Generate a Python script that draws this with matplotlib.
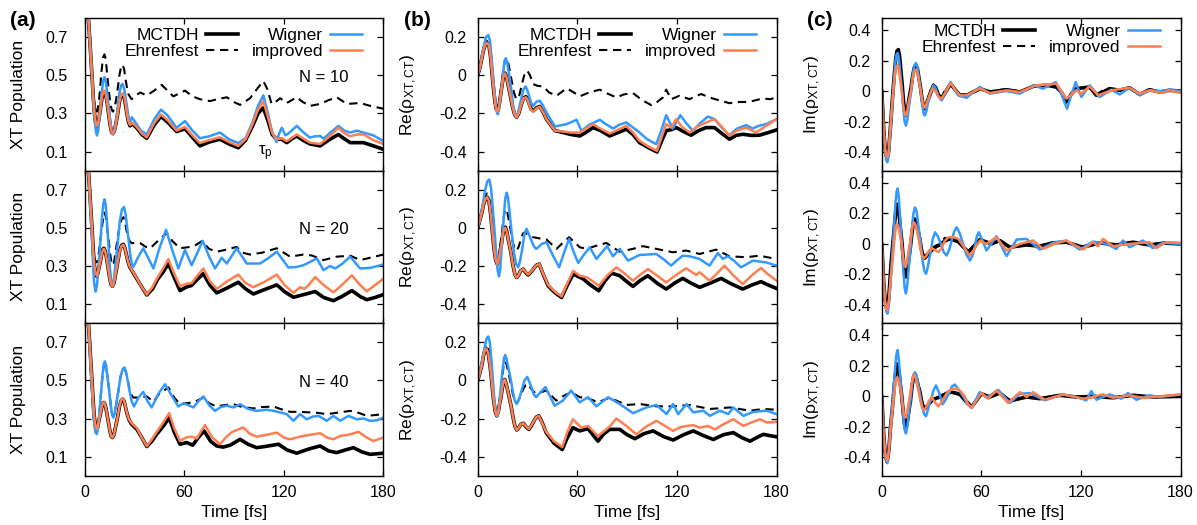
import matplotlib.pyplot as plt
import numpy as np

plt.rcParams['font.family'] = ['Liberation Sans', 'DejaVu Sans']
plt.rcParams['mathtext.fontset'] = 'custom'
plt.rcParams['mathtext.rm'] = 'Liberation Sans'
plt.rcParams['mathtext.it'] = 'Liberation Sans:italic'

# ---- data: (time [fs], value) ----
# column (a): XT population, rows N = 10, 20, 40
a10_mc = [(0,1.0),(1.5,0.9),(2.5,0.78),(3.5,0.64),(4.5,0.5),(5.3,0.38),(6,0.3),(6.7,0.25),(7.3,0.23),(8,0.24),(8.7,0.27),(9.5,0.32),(10.5,0.38),(11.2,0.408),(11.8,0.415),(12.5,0.405),(13.4,0.37),(14.5,0.3),(15.5,0.235),(16.3,0.203),(17.2,0.195),(18,0.21),(19,0.25),(20,0.3),(21,0.36),(22,0.392),(23,0.40),(23.9,0.385),(24.7,0.345),(25.5,0.3),(26.5,0.255),(27.4,0.235),(29,0.245),(31.4,0.225),(34.5,0.19),(37.5,0.17),(42,0.24),(46,0.285),(50,0.255),(55.5,0.205),(60.5,0.22),(65,0.175),(69.5,0.13),(75,0.15),(81.6,0.165),(87,0.14),(92.6,0.12),(97,0.16),(101,0.23),(104.5,0.3),(107.7,0.33),(110.5,0.26),(113,0.19),(115.7,0.165),(118.8,0.165),(121.8,0.147),(124.5,0.165),(127.8,0.182),(131.5,0.16),(135.8,0.14),(141.9,0.13),(147,0.16),(152.9,0.19),(156,0.17),(160,0.147),(168,0.147),(174,0.13),(180,0.112)]
a10_eh = [(0,1.0),(1.5,0.9),(2.5,0.78),(3.5,0.64),(4.5,0.5),(5.5,0.38),(6.5,0.32),(7.5,0.31),(8.5,0.35),(9.3,0.42),(10.2,0.52),(11.2,0.595),(12,0.61),(12.8,0.585),(13.6,0.51),(14.5,0.43),(15.5,0.355),(16.4,0.318),(17.2,0.31),(18.1,0.33),(19,0.37),(20,0.43),(21,0.5),(22.1,0.548),(23,0.555),(23.9,0.53),(24.7,0.48),(25.5,0.44),(26.5,0.4),(28.4,0.375),(31,0.395),(33.5,0.41),(37.5,0.395),(42,0.42),(46.5,0.45),(50,0.42),(53.5,0.39),(57,0.405),(60.5,0.42),(65,0.39),(69.5,0.375),(75.6,0.365),(80,0.375),(85.7,0.385),(90,0.36),(93.7,0.345),(99.7,0.38),(104,0.43),(107.7,0.47),(110,0.43),(112.7,0.35),(115,0.36),(117.8,0.38),(121.8,0.355),(127.8,0.385),(131.5,0.36),(135.8,0.34),(141.9,0.35),(147,0.37),(151.9,0.385),(158,0.35),(166,0.355),(172,0.34),(180,0.325)]
a10_wi = [(0,1.0),(1.5,0.9),(2.5,0.78),(3.5,0.64),(4.5,0.5),(5.4,0.35),(6.2,0.26),(6.9,0.205),(7.5,0.185),(8.2,0.21),(8.8,0.26),(9.5,0.32),(10.4,0.41),(11.3,0.475),(12,0.49),(12.7,0.475),(13.5,0.42),(14.5,0.34),(15.5,0.26),(16.4,0.205),(17.2,0.19),(18,0.205),(19,0.26),(20,0.33),(21,0.405),(22.1,0.448),(23,0.455),(23.9,0.43),(24.7,0.385),(25.5,0.34),(26.5,0.28),(27.4,0.25),(28.5,0.28),(30.5,0.255),(34,0.21),(37.5,0.19),(42,0.27),(46,0.32),(50,0.29),(55.5,0.225),(60.5,0.26),(65,0.21),(69.5,0.17),(75,0.18),(81.6,0.2),(87,0.165),(92.6,0.145),(97,0.17),(101,0.25),(104.5,0.34),(107.7,0.395),(110.5,0.3),(113,0.2),(115.7,0.15),(117,0.19),(118.8,0.225),(121,0.185),(123.5,0.2),(127.8,0.235),(132,0.2),(135.8,0.173),(138.5,0.18),(141.9,0.182),(144,0.168),(148,0.2),(152.9,0.235),(156.5,0.21),(160,0.2),(164,0.21),(168,0.2),(174,0.185),(180,0.155)]
a10_im = [(0,1.0),(1.5,0.9),(2.5,0.78),(3.5,0.64),(4.5,0.5),(5.3,0.38),(6,0.3),(6.7,0.255),(7.3,0.235),(8,0.245),(8.7,0.275),(9.5,0.32),(10.5,0.385),(11.2,0.412),(11.8,0.42),(12.5,0.41),(13.4,0.37),(14.5,0.3),(15.5,0.235),(16.3,0.203),(17.2,0.195),(18,0.21),(19,0.25),(20,0.3),(21,0.36),(22,0.395),(23,0.405),(23.9,0.39),(24.7,0.35),(25.5,0.3),(26.5,0.258),(27.4,0.24),(29,0.25),(31.4,0.23),(34.5,0.195),(37.5,0.175),(42,0.25),(46,0.295),(50,0.265),(55.5,0.21),(60.5,0.23),(65,0.185),(69.5,0.145),(75,0.16),(81.6,0.175),(87,0.15),(92.6,0.13),(97,0.165),(101,0.24),(104.5,0.32),(107.7,0.365),(110.5,0.28),(113,0.2),(115.7,0.165),(118.8,0.17),(121.8,0.155),(124.5,0.17),(127.8,0.19),(131.5,0.17),(135.8,0.147),(141.9,0.14),(147,0.175),(152.9,0.225),(156,0.2),(160,0.18),(164,0.19),(168,0.19),(174,0.16),(180,0.14)]

a20_mc = [(0,1.0),(1.5,0.9),(2.5,0.78),(3.5,0.64),(4.5,0.5),(5.3,0.38),(6,0.3),(6.7,0.26),(7.3,0.247),(8,0.26),(8.8,0.295),(9.5,0.32),(10.4,0.365),(11.1,0.388),(11.7,0.393),(12.4,0.38),(13.3,0.34),(14.2,0.29),(15.2,0.235),(16,0.203),(16.8,0.194),(17.7,0.21),(18.8,0.26),(20,0.32),(21.2,0.38),(22.3,0.408),(23.4,0.414),(24.3,0.395),(25.2,0.36),(26,0.33),(27.2,0.295),(28.4,0.278),(31.5,0.233),(34.5,0.19),(37.5,0.148),(41,0.18),(44,0.23),(47.5,0.27),(50.5,0.313),(54,0.24),(57.5,0.171),(61.5,0.19),(64.5,0.198),(68,0.23),(71.6,0.26),(75.5,0.2),(79.6,0.159),(86,0.185),(92.6,0.215),(97,0.18),(101.7,0.153),(108,0.175),(115.8,0.201),(120.5,0.165),(125.8,0.136),(132,0.15),(138.9,0.166),(144,0.135),(149.9,0.118),(155,0.14),(161,0.171),(166,0.14),(170,0.123),(175,0.135),(180,0.15)]
a20_eh = [(0,1.0),(1.5,0.9),(2.5,0.78),(3.5,0.62),(4.5,0.48),(5.5,0.37),(6.5,0.32),(7.5,0.32),(8.5,0.36),(9.5,0.43),(10.5,0.5),(11.3,0.56),(12,0.58),(12.8,0.56),(13.6,0.5),(14.5,0.44),(15.5,0.36),(16.3,0.315),(17,0.304),(17.8,0.32),(18.8,0.38),(20,0.45),(21.2,0.51),(22.3,0.545),(23.4,0.556),(24.4,0.53),(25.2,0.49),(26,0.46),(27.2,0.43),(28.4,0.42),(33.5,0.42),(37,0.4),(39.5,0.393),(44,0.43),(49.5,0.473),(53,0.43),(57.5,0.393),(63.6,0.4),(67,0.41),(70.6,0.43),(75,0.39),(79.6,0.375),(85,0.385),(91.6,0.40),(95,0.37),(99.7,0.36),(107,0.37),(115.8,0.393),(123.8,0.349),(131.8,0.36),(137,0.355),(143.9,0.331),(151.9,0.349),(160,0.354),(166,0.331),(173,0.345),(180,0.36)]
a20_wi = [(0,1.0),(1.5,0.9),(2.5,0.78),(3.5,0.6),(4.5,0.45),(5.2,0.3),(5.8,0.21),(6.7,0.166),(7.5,0.2),(8.4,0.29),(9.5,0.42),(10.5,0.55),(11.3,0.625),(12,0.65),(12.8,0.62),(13.6,0.52),(14.5,0.4),(15.3,0.29),(16.1,0.215),(16.8,0.194),(17.6,0.22),(18.7,0.31),(20,0.42),(21.2,0.53),(22.5,0.595),(23.8,0.61),(24.8,0.57),(25.7,0.5),(26.5,0.44),(27.5,0.36),(28.5,0.31),(29.4,0.295),(32.5,0.35),(35.4,0.393),(38.5,0.34),(41.5,0.287),(45,0.39),(49.1,0.49),(53,0.38),(56.5,0.287),(60.5,0.384),(64.5,0.304),(68,0.37),(71.2,0.432),(75,0.35),(78.6,0.287),(82.6,0.343),(85.7,0.313),(91.6,0.393),(97.7,0.313),(105.7,0.313),(110.5,0.34),(115.8,0.375),(122.8,0.292),(127.8,0.295),(131.8,0.304),(135.5,0.32),(139.9,0.34),(143.9,0.278),(147.8,0.3),(150.9,0.287),(155,0.31),(160,0.349),(166,0.287),(172,0.29),(180,0.308)]
a20_im = [(0,1.0),(1.5,0.9),(2.5,0.78),(3.5,0.64),(4.5,0.5),(5.3,0.38),(6,0.3),(6.7,0.262),(7.3,0.25),(8,0.262),(8.8,0.295),(9.5,0.32),(10.4,0.363),(11.1,0.385),(11.7,0.39),(12.4,0.378),(13.3,0.34),(14.2,0.29),(15.2,0.235),(16,0.203),(16.8,0.194),(17.7,0.21),(18.8,0.26),(20,0.32),(21.2,0.378),(22.3,0.405),(23.4,0.412),(24.3,0.394),(25.2,0.36),(26,0.33),(27.2,0.297),(28.4,0.28),(31.5,0.235),(34.5,0.19),(37.5,0.15),(41,0.19),(44,0.24),(47.5,0.29),(50.5,0.336),(54,0.26),(57.5,0.194),(61.5,0.207),(64.5,0.21),(68,0.25),(71.6,0.287),(75.5,0.22),(79.6,0.18),(86,0.22),(92.6,0.255),(97,0.21),(101.7,0.189),(108,0.215),(115.8,0.255),(120.5,0.2),(125.8,0.159),(129.8,0.189),(132.5,0.18),(135,0.2),(138.9,0.242),(144,0.2),(149.9,0.162),(155,0.2),(161,0.251),(166,0.2),(170,0.167),(175,0.2),(180,0.233)]

a40_mc = [(0,1.0),(1.5,0.9),(2.5,0.78),(3.5,0.64),(4.5,0.5),(5.3,0.38),(6,0.3),(6.7,0.258),(7.3,0.244),(8,0.258),(8.8,0.295),(9.5,0.32),(10.4,0.36),(11.1,0.38),(11.7,0.384),(12.4,0.372),(13.3,0.335),(14.2,0.29),(15.2,0.24),(16,0.208),(16.8,0.2),(17.7,0.215),(18.8,0.26),(20,0.31),(21.1,0.365),(22.1,0.395),(23,0.402),(23.9,0.39),(24.8,0.355),(25.8,0.32),(27,0.29),(28.4,0.27),(31.5,0.244),(34.5,0.2),(37.5,0.153),(40.5,0.18),(43.5,0.218),(47.5,0.26),(51,0.305),(54,0.23),(57.5,0.165),(61.5,0.174),(65.2,0.16),(68.5,0.2),(72,0.235),(76,0.18),(79.6,0.156),(83.5,0.15),(87.7,0.16),(93.7,0.191),(98.5,0.165),(103.7,0.147),(110,0.155),(116.8,0.165),(122,0.135),(127.8,0.118),(135,0.14),(141.9,0.156),(147,0.13),(151.9,0.121),(157,0.135),(162,0.147),(167,0.125),(172,0.112),(180,0.118)]
a40_eh = [(0,1.0),(1.5,0.9),(2.5,0.78),(3.5,0.6),(4.5,0.45),(5.3,0.32),(6,0.27),(6.6,0.24),(7.3,0.23),(8,0.25),(8.9,0.32),(9.8,0.42),(10.8,0.52),(11.6,0.578),(12.3,0.59),(13,0.575),(13.8,0.52),(14.8,0.45),(15.8,0.37),(16.6,0.325),(17.4,0.31),(18.3,0.335),(19.4,0.39),(20.5,0.45),(21.7,0.52),(23,0.558),(24,0.565),(25,0.54),(26,0.5),(27,0.46),(28.2,0.425),(29.4,0.41),(33,0.41),(37.5,0.416),(41.5,0.388),(45,0.43),(50.5,0.463),(54,0.41),(57.5,0.375),(61,0.38),(65.6,0.384),(71.6,0.41),(75,0.38),(79.6,0.363),(84,0.37),(89.7,0.375),(95,0.36),(101.7,0.353),(107,0.36),(113.8,0.363),(118,0.35),(123.8,0.335),(129,0.335),(135.8,0.332),(140,0.33),(145.9,0.323),(152,0.33),(160,0.34),(165,0.33),(170,0.314),(175,0.318),(180,0.323)]
a40_wi = [(0,1.0),(1.5,0.9),(2.5,0.78),(3.5,0.6),(4.5,0.45),(5.3,0.32),(6,0.26),(6.6,0.228),(7.3,0.218),(8,0.24),(8.9,0.32),(9.8,0.42),(10.8,0.525),(11.6,0.585),(12.3,0.6),(13,0.58),(13.8,0.52),(14.8,0.45),(15.8,0.37),(16.6,0.32),(17.4,0.305),(18.3,0.33),(19.4,0.39),(20.5,0.45),(21.7,0.52),(23,0.56),(24,0.568),(25,0.545),(26,0.5),(27,0.45),(28.4,0.39),(29.8,0.363),(32.5,0.41),(35.4,0.44),(38,0.39),(40.5,0.358),(44.5,0.43),(48.5,0.48),(52.5,0.42),(56.5,0.363),(59.5,0.38),(62.5,0.37),(65.6,0.358),(68.5,0.39),(71.6,0.416),(75,0.37),(78.6,0.34),(82,0.36),(85.7,0.367),(89.7,0.358),(93.7,0.375),(98.5,0.35),(103.7,0.34),(109.7,0.346),(114,0.34),(117.8,0.332),(121.8,0.323),(125.8,0.288),(129.8,0.323),(133.8,0.296),(137.5,0.31),(140.9,0.314),(145.9,0.288),(149.9,0.314),(154,0.288),(159,0.314),(164,0.296),(168,0.3),(172,0.288),(176,0.29),(180,0.305)]
a40_im = [(0,1.0),(1.5,0.9),(2.5,0.78),(3.5,0.64),(4.5,0.5),(5.3,0.38),(6,0.3),(6.7,0.258),(7.3,0.245),(8,0.258),(8.8,0.295),(9.5,0.32),(10.4,0.36),(11.1,0.381),(11.7,0.385),(12.4,0.373),(13.3,0.335),(14.2,0.29),(15.2,0.24),(16,0.208),(16.8,0.2),(17.7,0.215),(18.8,0.26),(20,0.31),(21.1,0.367),(22.1,0.398),(23,0.405),(23.9,0.392),(24.8,0.357),(25.8,0.32),(27,0.292),(28.4,0.275),(31.5,0.25),(34.5,0.2),(37.5,0.155),(40.5,0.19),(43.5,0.23),(47.5,0.28),(51,0.328),(54,0.25),(57.5,0.182),(61,0.2),(64.5,0.205),(67.6,0.195),(70,0.23),(72.6,0.265),(77,0.2),(81.6,0.165),(85,0.2),(89,0.23),(95.7,0.253),(99.5,0.22),(103.7,0.205),(110,0.215),(115.8,0.226),(120,0.2),(123.8,0.191),(129.8,0.205),(136,0.215),(141.9,0.223),(146,0.2),(149.9,0.191),(154,0.209),(159,0.215),(165,0.23),(170,0.2),(174,0.182),(180,0.2)]

# column (b): Re(rho_XT,CT)
b10_mc = [(0,0),(1.3,0.04),(2.5,0.09),(3.7,0.14),(4.8,0.165),(5.8,0.17),(6.8,0.155),(7.7,0.1),(8.5,0.02),(9.5,-0.07),(10.4,-0.14),(11.2,-0.177),(12,-0.186),(12.8,-0.165),(13.5,-0.12),(14.2,-0.08),(15,-0.03),(15.7,0.002),(16.4,0.012),(17.2,-0.002),(18.3,-0.05),(19.5,-0.1),(20.8,-0.16),(22.2,-0.205),(23.4,-0.22),(24.7,-0.2),(26,-0.16),(27.5,-0.12),(29,-0.112),(30,-0.125),(31,-0.15),(32.2,-0.178),(33.4,-0.186),(35.4,-0.17),(37.4,-0.163),(39.5,-0.195),(41.4,-0.23),(46.5,-0.29),(51.5,-0.3),(56,-0.31),(61.5,-0.318),(65,-0.3),(69.5,-0.274),(74,-0.29),(79.5,-0.318),(84.5,-0.3),(89.5,-0.282),(93.5,-0.31),(97.5,-0.353),(103,-0.38),(108,-0.402),(110.5,-0.35),(113.5,-0.29),(116.5,-0.285),(119.5,-0.274),(124,-0.295),(128.5,-0.314),(133,-0.29),(137.5,-0.274),(142.6,-0.274),(147,-0.305),(151.6,-0.335),(155.6,-0.315),(159.6,-0.309),(165,-0.315),(169.6,-0.314),(175,-0.3),(180,-0.286)]
b10_eh = [(0,0),(1.3,0.045),(2.5,0.09),(3.7,0.145),(4.8,0.175),(5.8,0.18),(6.8,0.16),(7.7,0.1),(8.5,0.02),(9.5,-0.07),(10.4,-0.15),(11.2,-0.185),(12,-0.19),(12.8,-0.16),(13.7,-0.09),(14.6,-0.03),(15.5,0.04),(16.5,0.08),(17.4,0.09),(18.3,0.07),(19.4,0.02),(20.5,-0.03),(21.8,-0.09),(23,-0.12),(24,-0.125),(25.2,-0.1),(26.5,-0.05),(28,0.0),(29.8,0.025),(31.5,0.0),(33.4,-0.046),(36,-0.055),(39.4,-0.058),(43,-0.09),(47.5,-0.107),(53.5,-0.068),(57,-0.085),(61.5,-0.11),(67,-0.09),(73.5,-0.075),(78,-0.095),(83.5,-0.116),(88,-0.1),(93.5,-0.093),(99,-0.13),(104.5,-0.156),(108,-0.14),(111.5,-0.116),(113.5,-0.075),(116.5,-0.125),(121.5,-0.107),(127.6,-0.125),(131,-0.11),(134.6,-0.098),(139.6,-0.116),(145,-0.13),(151.6,-0.146),(157,-0.14),(163.6,-0.139),(171.6,-0.121),(176,-0.125),(180,-0.116)]
b10_wi = [(0,0),(1.3,0.045),(2.5,0.1),(3.8,0.16),(5,0.2),(6.4,0.212),(7.4,0.18),(8.2,0.1),(9,0.02),(10,-0.08),(11,-0.165),(11.7,-0.2),(12.2,-0.204),(12.9,-0.17),(13.7,-0.11),(14.6,-0.05),(15.5,0.03),(16.3,0.08),(17,0.09),(17.7,0.07),(18.8,0.01),(20,-0.06),(21.2,-0.15),(22.4,-0.205),(23.4,-0.22),(24.6,-0.185),(26,-0.13),(27.5,-0.075),(28.8,-0.058),(29.8,-0.075),(31,-0.11),(32.2,-0.145),(33.4,-0.16),(35.4,-0.138),(37.4,-0.133),(39.4,-0.16),(41.4,-0.195),(46.5,-0.268),(50,-0.262),(53.5,-0.256),(59.5,-0.233),(62.5,-0.291),(67,-0.26),(73.5,-0.233),(77,-0.255),(81.5,-0.279),(85,-0.26),(89.5,-0.247),(93,-0.27),(97.5,-0.3),(102,-0.335),(107.5,-0.361),(110.5,-0.29),(113.5,-0.209),(117.5,-0.279),(122,-0.209),(125.5,-0.25),(129.6,-0.291),(134,-0.25),(138.6,-0.216),(142.6,-0.23),(147,-0.275),(151.6,-0.314),(156,-0.28),(161.6,-0.261),(165.6,-0.279),(169,-0.265),(173.6,-0.256),(180,-0.23)]
b10_im = [(0,0),(1.3,0.04),(2.5,0.09),(3.7,0.14),(4.8,0.165),(5.8,0.17),(6.8,0.155),(7.7,0.1),(8.5,0.02),(9.5,-0.07),(10.4,-0.142),(11.2,-0.18),(12,-0.19),(12.8,-0.168),(13.5,-0.12),(14.2,-0.08),(15,-0.03),(15.7,0.0),(16.4,0.01),(17.2,-0.004),(18.3,-0.05),(19.5,-0.1),(20.8,-0.16),(22.2,-0.205),(23.4,-0.22),(24.7,-0.2),(26,-0.16),(27.5,-0.122),(29,-0.115),(30,-0.128),(31,-0.155),(32.2,-0.182),(33.4,-0.19),(35.4,-0.172),(37.4,-0.165),(39.5,-0.195),(41.4,-0.23),(46.5,-0.29),(51.5,-0.295),(56,-0.3),(61.5,-0.3),(65,-0.28),(69.5,-0.256),(74,-0.28),(79.5,-0.305),(84.5,-0.285),(89.5,-0.265),(93.5,-0.3),(97.5,-0.344),(103,-0.375),(108,-0.396),(110.5,-0.33),(113.5,-0.256),(116.5,-0.274),(119.5,-0.23),(123,-0.27),(127.6,-0.3),(132,-0.27),(137.6,-0.247),(142.6,-0.23),(147,-0.27),(151.6,-0.318),(156,-0.29),(161.6,-0.274),(167.6,-0.3),(173.6,-0.265),(180,-0.23)]

b20_mc = [(0,0),(1.3,0.04),(2.5,0.08),(3.7,0.13),(4.8,0.155),(5.8,0.161),(6.8,0.14),(7.8,0.07),(8.8,-0.02),(9.8,-0.11),(10.8,-0.17),(11.8,-0.19),(12.7,-0.165),(13.5,-0.12),(14.2,-0.09),(15,-0.04),(15.8,-0.005),(16.6,0.004),(17.5,-0.02),(18.7,-0.075),(20,-0.13),(21.2,-0.195),(22.4,-0.245),(23.4,-0.26),(24.5,-0.25),(25.8,-0.225),(27.4,-0.216),(28.9,-0.235),(30.4,-0.247),(32.2,-0.23),(34,-0.21),(35.5,-0.195),(37,-0.19),(39.5,-0.245),(42.4,-0.304),(46.5,-0.34),(50.5,-0.365),(54,-0.3),(57.5,-0.242),(63.5,-0.268),(68,-0.3),(72.9,-0.33),(76.5,-0.28),(80.5,-0.237),(85.5,-0.251),(89.5,-0.28),(93.5,-0.307),(98,-0.275),(102.5,-0.251),(108,-0.29),(113.5,-0.321),(118.5,-0.29),(123.5,-0.265),(128.5,-0.29),(133.6,-0.312),(140,-0.29),(146.6,-0.265),(153,-0.295),(159.6,-0.321),(165,-0.3),(170.6,-0.282),(175,-0.3),(180,-0.318)]
b20_eh = [(0,0),(1.3,0.045),(2.5,0.09),(3.7,0.145),(4.8,0.175),(5.8,0.18),(6.8,0.16),(7.8,0.08),(8.8,0.0),(9.8,-0.1),(10.8,-0.17),(11.8,-0.19),(12.7,-0.16),(13.6,-0.09),(14.5,-0.03),(15.4,0.04),(16.2,0.085),(17,0.1),(17.8,0.085),(18.9,0.03),(20,-0.02),(21.2,-0.08),(22.4,-0.112),(23.4,-0.12),(24.6,-0.1),(26,-0.06),(27.2,-0.03),(28.4,-0.023),(30.9,-0.04),(33.4,-0.049),(37,-0.055),(41.4,-0.061),(47.5,-0.11),(51,-0.08),(55,-0.049),(61.5,-0.102),(65.5,-0.11),(71,-0.095),(77.5,-0.079),(81,-0.1),(85.5,-0.125),(93.5,-0.11),(99.5,-0.096),(107.5,-0.11),(117.5,-0.128),(125.5,-0.119),(133.6,-0.137),(143.6,-0.114),(151.6,-0.149),(161.6,-0.154),(169.6,-0.146),(175,-0.155),(180,-0.163)]
b20_wi = [(0,0),(1.5,0.05),(3,0.12),(4.5,0.2),(5.8,0.245),(7,0.254),(8,0.21),(9,0.11),(10,0.0),(11,-0.12),(12,-0.225),(12.8,-0.254),(13.5,-0.22),(14.2,-0.13),(15,-0.03),(15.8,0.07),(16.6,0.155),(17.4,0.184),(18.2,0.16),(19.3,0.07),(20.5,-0.03),(21.8,-0.13),(23.1,-0.19),(24.4,-0.207),(25.6,-0.17),(27,-0.1),(28.2,-0.03),(29.4,-0.005),(30.9,-0.035),(32.5,-0.07),(34,-0.1),(35.4,-0.11),(38.4,-0.085),(41.4,-0.075),(45,-0.14),(49,-0.207),(52,-0.13),(55,-0.058),(57.5,-0.12),(60.5,-0.184),(64,-0.14),(67.5,-0.102),(71.5,-0.163),(77.9,-0.096),(81.5,-0.149),(85.5,-0.11),(90.5,-0.172),(97.5,-0.142),(102,-0.14),(107.5,-0.137),(112,-0.165),(116.5,-0.198),(120,-0.17),(123.5,-0.146),(127.6,-0.149),(133.6,-0.163),(139.6,-0.198),(144.6,-0.132),(147.6,-0.163),(150.6,-0.149),(154,-0.17),(158.6,-0.207),(165.6,-0.172),(173.6,-0.181),(180,-0.198)]
b20_im = [(0,0),(1.3,0.04),(2.5,0.08),(3.7,0.13),(4.8,0.155),(5.8,0.16),(6.8,0.14),(7.8,0.07),(8.8,-0.02),(9.8,-0.11),(10.8,-0.17),(11.8,-0.19),(12.7,-0.165),(13.5,-0.12),(14.2,-0.09),(15,-0.042),(15.8,-0.008),(16.6,0.0),(17.5,-0.022),(18.7,-0.075),(20,-0.13),(21.2,-0.195),(22.4,-0.245),(23.4,-0.26),(24.5,-0.25),(25.8,-0.225),(27.4,-0.216),(28.9,-0.233),(30.4,-0.245),(32.2,-0.228),(34,-0.21),(35.5,-0.195),(37,-0.19),(39.5,-0.243),(42.4,-0.3),(46.5,-0.335),(50.5,-0.36),(54,-0.29),(57.5,-0.225),(61.5,-0.251),(66,-0.26),(72.9,-0.304),(78,-0.25),(83.5,-0.207),(88.5,-0.24),(93.5,-0.277),(98,-0.245),(102.5,-0.216),(108,-0.25),(113.5,-0.286),(119,-0.25),(125.5,-0.212),(131.6,-0.247),(133.6,-0.233),(139.6,-0.277),(144,-0.24),(148.6,-0.198),(154,-0.25),(159.6,-0.295),(165,-0.25),(170.6,-0.21),(175,-0.245),(180,-0.277)]

b40_mc = [(0,0),(1.3,0.04),(2.5,0.08),(3.5,0.13),(4.5,0.16),(5.4,0.165),(6.4,0.14),(7.5,0.07),(8.5,-0.01),(9.5,-0.1),(10.6,-0.165),(11.5,-0.186),(12.4,-0.165),(13.2,-0.12),(14,-0.09),(14.8,-0.04),(15.6,-0.005),(16.3,0.005),(17.2,-0.02),(18.6,-0.075),(20,-0.13),(21.2,-0.19),(22.4,-0.24),(23.5,-0.26),(24.6,-0.25),(26,-0.23),(27.6,-0.225),(29.2,-0.245),(30.8,-0.257),(32.5,-0.235),(34,-0.21),(35.4,-0.192),(36.8,-0.186),(39,-0.225),(41.2,-0.274),(46,-0.33),(50.9,-0.363),(54,-0.3),(57.3,-0.248),(61.4,-0.265),(66.4,-0.253),(72.4,-0.319),(76,-0.28),(79.5,-0.257),(85.5,-0.257),(90,-0.285),(94.6,-0.306),(100,-0.28),(105.6,-0.265),(112,-0.295),(117.7,-0.313),(124,-0.285),(129.8,-0.265),(136,-0.29),(141.9,-0.31),(148,-0.285),(153.9,-0.274),(159,-0.3),(164,-0.319),(168,-0.3),(172,-0.283),(176,-0.29),(180,-0.296)]
b40_eh = [(0,0),(1.3,0.045),(2.5,0.09),(3.6,0.145),(4.6,0.18),(5.6,0.19),(6.6,0.165),(7.6,0.09),(8.6,0.0),(9.6,-0.1),(10.6,-0.17),(11.6,-0.19),(12.4,-0.16),(13.2,-0.1),(14,-0.04),(14.9,0.03),(15.7,0.085),(16.5,0.1),(17.3,0.085),(18.6,0.035),(20,-0.02),(21.2,-0.075),(22.4,-0.11),(23.5,-0.12),(24.8,-0.1),(26.2,-0.07),(27.5,-0.045),(28.8,-0.025),(30.2,-0.018),(32.7,-0.05),(35.2,-0.071),(41.2,-0.053),(47.3,-0.106),(52,-0.08),(56.3,-0.062),(61.4,-0.088),(66.4,-0.094),(72.4,-0.115),(78.5,-0.094),(83.5,-0.106),(89.5,-0.129),(97.6,-0.124),(107.6,-0.136),(117.7,-0.136),(127.8,-0.129),(139.8,-0.15),(151.9,-0.142),(164,-0.159),(172,-0.15),(180,-0.154)]
b40_wi = [(0,0),(1.5,0.05),(3,0.12),(4.3,0.18),(5.4,0.222),(6.4,0.23),(7.3,0.2),(8.2,0.11),(9,0.02),(10,-0.1),(11,-0.17),(11.7,-0.189),(12.4,-0.17),(13.2,-0.1),(14,-0.03),(14.9,0.05),(15.8,0.115),(16.5,0.133),(17.3,0.115),(18.6,0.06),(20,0.0),(21.2,-0.06),(22.4,-0.11),(23.5,-0.124),(24.9,-0.1),(26.5,-0.05),(28.2,0.0),(29.8,0.018),(31.2,-0.01),(32.5,-0.04),(33.9,-0.075),(35.2,-0.088),(38,-0.06),(40.8,-0.035),(46.3,-0.133),(51.3,-0.106),(56.3,-0.053),(61.4,-0.115),(66.4,-0.088),(71.4,-0.136),(78.5,-0.088),(85.5,-0.124),(93.6,-0.172),(101.6,-0.142),(107.6,-0.129),(113.7,-0.177),(117.7,-0.124),(120.7,-0.177),(125.8,-0.124),(129.8,-0.168),(135.8,-0.159),(139.8,-0.186),(145.9,-0.159),(150.9,-0.177),(153.9,-0.142),(160,-0.186),(166,-0.165),(174,-0.159),(180,-0.177)]
b40_im = [(0,0),(1.3,0.04),(2.5,0.08),(3.5,0.13),(4.5,0.16),(5.4,0.165),(6.4,0.14),(7.5,0.07),(8.5,-0.01),(9.5,-0.1),(10.6,-0.165),(11.5,-0.186),(12.4,-0.165),(13.2,-0.12),(14,-0.09),(14.8,-0.04),(15.6,-0.005),(16.3,0.005),(17.2,-0.02),(18.6,-0.075),(20,-0.13),(21.2,-0.19),(22.4,-0.24),(23.5,-0.26),(24.6,-0.25),(26,-0.23),(27.6,-0.225),(29.2,-0.243),(30.8,-0.255),(32.5,-0.233),(34,-0.21),(35.4,-0.192),(36.8,-0.186),(41.2,-0.27),(46,-0.32),(50.9,-0.35),(54,-0.27),(57.3,-0.204),(62.4,-0.248),(66.4,-0.239),(72.4,-0.292),(79.5,-0.242),(83.5,-0.2),(89.5,-0.239),(95.6,-0.283),(101,-0.245),(107.6,-0.212),(113,-0.24),(117.7,-0.265),(122,-0.245),(125.8,-0.239),(129.8,-0.235),(133.8,-0.248),(138.8,-0.239),(142.9,-0.257),(148,-0.23),(153.9,-0.204),(160,-0.239),(165,-0.22),(170,-0.204),(174,-0.221),(180,-0.218)]

# column (c): Im(rho_XT,CT)
c10_mc = [(0,0),(0.6,-0.12),(1.2,-0.25),(2,-0.37),(2.7,-0.42),(3.4,-0.43),(4.1,-0.4),(4.8,-0.3),(5.5,-0.2),(6.5,-0.04),(7.5,0.1),(8.4,0.21),(9.2,0.265),(10,0.274),(10.8,0.23),(11.5,0.14),(12.3,0.05),(13.1,-0.06),(13.9,-0.14),(14.6,-0.158),(15.4,-0.13),(16.4,-0.05),(17.6,0.02),(18.6,0.1),(19.6,0.155),(20.6,0.171),(21.5,0.15),(22.4,0.09),(23.3,0.03),(24.3,-0.05),(25.2,-0.1),(26,-0.114),(26.9,-0.09),(27.7,-0.055),(28.5,-0.04),(29.8,0.0),(31.1,0.04),(32.5,0.025),(34,-0.02),(36.1,-0.048),(38.7,0.0),(41.5,0.05),(44.3,0.01),(47.1,-0.026),(51.1,-0.026),(59.1,0.018),(65.1,-0.004),(75.2,0.011),(83.2,-0.004),(91.2,0.033),(99.2,0.04),(105.2,0.029),(108.5,-0.01),(111.2,-0.07),(114,-0.02),(117.2,0.018),(125.3,0.029),(129.3,-0.026),(137.3,0.018),(143.3,0.007),(149.3,0.024),(155.3,-0.02),(161.3,0.011),(167.3,-0.004),(173.3,0.007),(180,0.002)]
c10_eh = [(0,0),(0.6,-0.12),(1.2,-0.25),(2,-0.36),(2.7,-0.41),(3.4,-0.42),(4.1,-0.39),(4.8,-0.3),(5.5,-0.2),(6.5,-0.04),(7.5,0.1),(8.4,0.2),(9.2,0.255),(10,0.265),(10.8,0.22),(11.5,0.14),(12.3,0.05),(13.1,-0.06),(13.9,-0.13),(14.6,-0.15),(15.4,-0.12),(16.4,-0.05),(17.6,0.02),(18.6,0.1),(19.6,0.15),(20.6,0.165),(21.5,0.145),(22.4,0.09),(23.3,0.03),(24.3,-0.04),(25.2,-0.09),(26,-0.1),(26.9,-0.08),(27.7,-0.04),(28.5,-0.02),(29.8,0.02),(31.1,0.045),(33.5,0.0),(36.1,-0.04),(38.5,0.02),(41.5,0.04),(44.3,0.01),(47.1,-0.02),(53,-0.02),(59.1,0.012),(65.1,0.0),(75.2,0.015),(83.2,0.0),(91.2,0.03),(99.2,0.035),(105.2,0.025),(108.5,-0.01),(111.2,-0.055),(114,-0.01),(117.2,0.015),(125.3,0.02),(129.3,-0.02),(135,0.02),(143.3,0.01),(149.3,0.02),(155.3,-0.015),(161.3,0.012),(167.3,-0.005),(173.3,0.008),(180,0.0)]
c10_wi = [(0,0),(0.6,-0.13),(1.2,-0.27),(2,-0.39),(2.7,-0.45),(3.4,-0.465),(4.1,-0.43),(4.8,-0.33),(5.5,-0.22),(6.5,-0.06),(7.4,0.08),(8.2,0.19),(8.9,0.24),(9.6,0.252),(10.4,0.21),(11.2,0.12),(12.1,0.02),(12.9,-0.1),(13.8,-0.2),(14.6,-0.224),(15.4,-0.19),(16.4,-0.1),(17.6,-0.01),(18.6,0.1),(19.6,0.17),(20.6,0.186),(21.5,0.16),(22.4,0.09),(23.3,0.02),(24.3,-0.08),(25.2,-0.145),(26,-0.158),(26.9,-0.13),(27.7,-0.08),(28.5,-0.05),(29.8,0.0),(31.1,0.04),(32.5,0.02),(34,-0.03),(36.1,-0.059),(38.7,0.0),(41.5,0.061),(44,0.01),(46.1,-0.026),(51.1,-0.042),(59.1,0.029),(65.1,-0.015),(75.2,0.002),(83.2,-0.015),(91.2,0.04),(97.2,0.018),(104.8,0.061),(108.3,-0.02),(111.6,-0.114),(114.3,-0.02),(116.8,0.061),(120.2,-0.037),(125.3,0.04),(131.3,-0.037),(138.3,0.011),(143.3,-0.02),(149.3,0.024),(155.3,-0.026),(161.3,0.007),(168.3,0.002),(173.3,0.011),(180,0.002)]
c10_im = [(0,0),(0.6,-0.12),(1.2,-0.25),(2,-0.37),(2.7,-0.42),(3.4,-0.432),(4.1,-0.4),(4.8,-0.3),(5.5,-0.2),(6.5,-0.06),(7.4,0.05),(8.2,0.13),(8.9,0.165),(9.6,0.171),(10.4,0.14),(11.2,0.07),(12.1,0.0),(12.9,-0.09),(13.8,-0.145),(14.6,-0.158),(15.4,-0.13),(16.4,-0.06),(17.6,0.0),(18.6,0.08),(19.6,0.13),(20.6,0.143),(21.5,0.12),(22.4,0.07),(23.3,0.02),(24.3,-0.05),(25.2,-0.095),(26,-0.107),(27,-0.08),(28.3,-0.04),(29.5,-0.005),(30.7,0.018),(32.5,0.0),(34.3,-0.035),(36.1,-0.048),(38.7,0.0),(41.5,0.055),(44.3,0.01),(47.1,-0.026),(51.1,-0.026),(59.1,0.018),(65.1,-0.011),(75.2,0.007),(83.2,-0.004),(93.2,0.04),(105.2,0.05),(108.3,0.0),(111.2,-0.048),(117.2,0.007),(120.2,-0.015),(125.3,0.033),(130.3,-0.026),(138.3,0.007),(149.3,0.024),(155.3,-0.015),(161.3,0.007),(169.3,-0.011),(173.3,0.007),(180,-0.011)]

c20_mc = [(0,0),(0.6,-0.12),(1.2,-0.25),(2,-0.36),(2.7,-0.41),(3.4,-0.42),(4.2,-0.36),(4.9,-0.25),(5.5,-0.15),(6.5,-0.02),(7.5,0.1),(8.3,0.2),(9,0.25),(9.6,0.26),(10.4,0.2),(11.2,0.11),(12.1,0.02),(13,-0.1),(13.8,-0.19),(14.6,-0.217),(15.4,-0.18),(16.3,-0.1),(17.3,-0.02),(18.2,0.07),(19.1,0.14),(20,0.163),(20.9,0.14),(22,0.08),(23,0.03),(24,-0.04),(25,-0.08),(26,-0.093),(27.5,-0.075),(29.3,-0.05),(31.1,-0.033),(33.1,-0.015),(35.1,-0.007),(38.1,0.02),(41.1,0.033),(46.1,0.015),(52.1,-0.054),(59.1,0.028),(66.1,0.0),(71.1,0.022),(77.2,-0.022),(87.2,-0.007),(95.2,-0.015),(103.2,0.007),(111.2,0.011),(121.2,-0.022),(131.3,0.007),(141.3,-0.007),(151.3,0.011),(161.3,-0.007),(170,0.005),(180,0.0)]
c20_eh = [(0,0),(0.6,-0.12),(1.2,-0.25),(2,-0.35),(2.7,-0.4),(3.4,-0.41),(4.2,-0.35),(4.9,-0.25),(5.5,-0.15),(6.5,-0.02),(7.5,0.1),(8.3,0.19),(9,0.238),(9.6,0.245),(10.4,0.19),(11.2,0.1),(12.1,0.02),(13,-0.09),(13.8,-0.175),(14.6,-0.2),(15.4,-0.17),(16.3,-0.09),(17.3,-0.02),(18.2,0.06),(19.1,0.13),(20,0.15),(20.9,0.13),(22,0.07),(23,0.02),(24,-0.04),(25,-0.072),(26,-0.08),(28.5,-0.05),(31.1,-0.02),(35.1,0.0),(38,0.04),(41.1,0.03),(46.1,0.03),(52.1,-0.05),(57,0.01),(59.1,0.03),(66.1,0.005),(71.1,0.02),(77.2,-0.02),(87.2,0.0),(95.2,-0.01),(103.2,0.005),(111.2,0.01),(121.2,-0.015),(131.3,0.01),(141.3,-0.005),(151.3,0.012),(161.3,-0.005),(170,0.008),(180,0.005)]
c20_wi = [(0,0),(0.6,-0.13),(1.2,-0.27),(2,-0.39),(2.8,-0.445),(3.6,-0.457),(4.5,-0.38),(5.5,-0.22),(6.5,-0.05),(7.5,0.12),(8.3,0.27),(9,0.345),(9.6,0.363),(10.4,0.29),(11.2,0.15),(12.1,0.0),(13,-0.17),(13.8,-0.29),(14.6,-0.326),(15.4,-0.27),(16.3,-0.15),(17.3,-0.04),(18.2,0.1),(19.1,0.2),(20,0.239),(20.9,0.22),(22.1,0.12),(23.3,0.02),(24.5,-0.1),(25.6,-0.175),(26.7,-0.196),(27.8,-0.15),(28.6,-0.1),(29.4,-0.06),(30.7,0.03),(32.1,0.076),(33.8,0.05),(35.6,0.0),(37.4,-0.055),(39.1,-0.076),(40.6,-0.04),(42.1,0.02),(43.6,0.08),(45.1,0.109),(47,0.07),(49,0.0),(51,-0.07),(53.1,-0.109),(54.6,-0.08),(56,-0.02),(57.3,0.05),(58.5,0.076),(60.8,0.02),(63.1,-0.043),(69.1,0.05),(75.2,-0.08),(81.2,0.028),(87.2,0.033),(95.2,-0.037),(103.2,0.007),(111.2,0.022),(119.2,-0.037),(127.3,0.015),(135.3,0.0),(141.3,-0.033),(145.3,0.022),(149.3,-0.022),(157.3,0.022),(163.3,-0.028),(169.3,0.007),(180,0.0)]
c20_im = [(0,0),(0.6,-0.12),(1.2,-0.25),(2,-0.37),(2.7,-0.425),(3.4,-0.435),(4.3,-0.37),(5.3,-0.24),(6.4,-0.12),(7.4,0.0),(8.3,0.09),(8.9,0.125),(9.4,0.13),(10.3,0.1),(11.2,0.05),(12,0.0),(12.8,-0.08),(13.6,-0.135),(14.4,-0.152),(15.2,-0.12),(16.1,-0.05),(17,0.0),(17.9,0.07),(18.8,0.125),(19.6,0.141),(20.5,0.12),(21.5,0.07),(22.5,0.02),(23.5,-0.04),(24.5,-0.08),(25.5,-0.093),(26.8,-0.08),(28.4,-0.045),(30.1,-0.028),(32.1,-0.04),(34.1,-0.054),(36,-0.03),(38,0.02),(40.1,0.043),(43,0.045),(46.1,0.033),(49.5,-0.02),(53.1,-0.08),(59.1,0.022),(63.1,0.0),(69.1,0.043),(75.2,-0.043),(83.2,0.0),(91.2,0.022),(97.2,-0.033),(104,0.0),(111.2,0.022),(121.2,-0.037),(127.3,0.011),(130.3,-0.015),(133.3,0.033),(139.3,-0.015),(149.3,0.0),(161.3,0.011),(165.3,-0.028),(171.3,0.011),(180,0.007)]

c40_mc = [(0,0),(0.6,-0.12),(1.2,-0.25),(2,-0.36),(2.7,-0.41),(3.4,-0.42),(4.3,-0.35),(5.3,-0.2),(6.4,-0.08),(7.5,0.06),(8.5,0.17),(9.1,0.205),(9.6,0.213),(10.4,0.16),(11.2,0.08),(12.1,0.0),(13,-0.11),(13.8,-0.19),(14.6,-0.21),(15.4,-0.17),(16.3,-0.1),(17.3,-0.03),(18.2,0.06),(19.1,0.125),(20,0.143),(20.9,0.12),(22,0.07),(23,0.03),(24,-0.03),(25,-0.07),(26,-0.08),(28.4,-0.05),(30.7,-0.022),(33.4,-0.01),(36.1,0.0),(39,0.02),(42.1,0.028),(47.1,0.013),(50.5,-0.03),(54.1,-0.069),(60.1,0.017),(65.1,-0.004),(71.1,0.022),(77.2,-0.03),(87.2,-0.004),(95.2,-0.015),(107.2,0.007),(117.2,-0.004),(127.3,0.0),(139.3,-0.009),(151.3,0.007),(163.3,-0.004),(180,0.0)]
c40_eh = [(0,0),(0.6,-0.12),(1.2,-0.25),(2,-0.35),(2.7,-0.4),(3.4,-0.41),(4.3,-0.34),(5.3,-0.2),(6.4,-0.08),(7.5,0.06),(8.5,0.16),(9.1,0.193),(9.6,0.2),(10.4,0.15),(11.2,0.075),(12.1,0.0),(13,-0.1),(13.8,-0.175),(14.6,-0.195),(15.4,-0.16),(16.3,-0.095),(17.3,-0.03),(18.2,0.05),(19.1,0.115),(20,0.135),(20.9,0.115),(22,0.07),(23,0.03),(24,-0.025),(25,-0.062),(26,-0.07),(28.4,-0.04),(30.7,-0.01),(36.1,0.01),(42.1,0.03),(47.1,0.02),(50.5,-0.02),(54.1,-0.06),(60.1,0.02),(65.1,0.0),(71.1,0.02),(77.2,-0.025),(87.2,0.0),(95.2,-0.01),(107.2,0.008),(117.2,0.0),(127.3,0.004),(139.3,-0.005),(151.3,0.008),(163.3,0.0),(180,0.004)]
c40_wi = [(0,0),(0.6,-0.13),(1.2,-0.27),(2,-0.38),(2.7,-0.43),(3.4,-0.438),(4.3,-0.35),(5.3,-0.2),(6.4,-0.06),(7.5,0.1),(8.5,0.24),(9.1,0.29),(9.6,0.304),(10.4,0.23),(11.2,0.12),(12.1,0.0),(13,-0.13),(13.8,-0.22),(14.6,-0.243),(15.4,-0.2),(16.3,-0.11),(17.3,-0.03),(18.2,0.07),(19.1,0.14),(20,0.158),(20.9,0.14),(22.1,0.07),(23.3,0.0),(24.5,-0.07),(25.6,-0.118),(26.7,-0.13),(27.8,-0.09),(28.7,-0.05),(29.7,-0.02),(31.2,0.04),(32.7,0.072),(34.7,0.02),(36.7,-0.052),(38.6,-0.02),(40.5,0.02),(42.3,0.065),(44.1,0.078),(46.6,0.04),(49.1,0.0),(51.6,-0.05),(54.1,-0.074),(59.1,0.028),(63.1,-0.009),(70.1,0.043),(77.2,-0.043),(83.2,0.017),(89.2,0.022),(98.2,-0.026),(109.2,0.013),(117.2,-0.004),(123.2,-0.026),(126.3,0.035),(129.3,-0.022),(137.3,0.013),(144.3,-0.015),(148.3,0.022),(153.3,-0.022),(161.3,0.007),(167.3,-0.004),(180,0.013)]
c40_im = [(0,0),(0.6,-0.12),(1.2,-0.25),(2,-0.36),(2.7,-0.41),(3.4,-0.42),(4.3,-0.36),(5.3,-0.22),(6.4,-0.1),(7.4,0.0),(8.3,0.09),(8.9,0.12),(9.4,0.126),(10.3,0.1),(11.2,0.05),(12,0.0),(12.8,-0.08),(13.6,-0.128),(14.4,-0.139),(15.2,-0.11),(16.1,-0.05),(17,0.0),(17.9,0.07),(18.8,0.125),(19.6,0.143),(20.5,0.12),(21.5,0.07),(22.5,0.02),(23.5,-0.04),(24.5,-0.08),(25.5,-0.091),(26.8,-0.07),(28.4,-0.03),(30.1,-0.004),(32.1,-0.04),(34.1,-0.065),(36,-0.04),(38,0.0),(40.1,0.035),(42.8,0.048),(45.5,0.05),(47.8,0.03),(50,0.0),(52,-0.05),(54.1,-0.074),(60.1,0.022),(64.1,-0.015),(69.1,0.039),(76.2,-0.043),(83.2,0.028),(87.2,-0.004),(91.2,0.028),(98.2,-0.022),(109.2,0.013),(121.2,-0.015),(127.3,-0.004),(133.3,0.013),(139.3,-0.009),(149.3,0.007),(157.3,-0.009),(167.3,0.0),(180,0.013)]

series_names = ['MCTDH', 'Ehrenfest', 'Wigner', 'improved']
n_labels = ['N = 10', 'N = 20', 'N = 40']
panel_letters = ['(a)', '(b)', '(c)']
ylabels = ['XT Population', 'Re(ρ$_{\\mathrm{XT,CT}}$)', 'Im(ρ$_{\\mathrm{XT,CT}}$)']
xticks = [0, 60, 120, 180]
yticks = [[0.1, 0.3, 0.5, 0.7], [0.2, 0, -0.2, -0.4], [0.4, 0.2, 0, -0.2, -0.4]]
ytick_labels = [['0.1', '0.3', '0.5', '0.7'], ['0.2', '0', '-0.2', '-0.4'],
                ['0.4', '0.2', '0', '-0.2', '-0.4']]
ylims = [(0, 0.8), (-0.5, 0.3), (-0.52, 0.48)]

grid = [
    [(a10_mc, a10_eh, a10_wi, a10_im), (b10_mc, b10_eh, b10_wi, b10_im), (c10_mc, c10_eh, c10_wi, c10_im)],
    [(a20_mc, a20_eh, a20_wi, a20_im), (b20_mc, b20_eh, b20_wi, b20_im), (c20_mc, c20_eh, c20_wi, c20_im)],
    [(a40_mc, a40_eh, a40_wi, a40_im), (b40_mc, b40_eh, b40_wi, b40_im), (c40_mc, c40_eh, c40_wi, c40_im)],
]

styles = [
    dict(color='black', lw=2.6),
    dict(color='black', lw=1.5, ls=(0, (4, 2.7))),
    dict(color='#3399ff', lw=1.8),
    dict(color='#ff7f50', lw=1.8),
]

fig = plt.figure(figsize=(11.97, 5.25), dpi=100)
col_left = [0.0706, 0.3991, 0.7366]
col_w = 0.2497
row_bottom = [0.6749, 0.3844, 0.0939]
row_h = 0.2905
ytick_pad = [12, 8, 8]  # gnuplot leaves a wider gap in column (a)

for r in range(3):
    for c in range(3):
        ax = fig.add_axes([col_left[c], row_bottom[r], col_w, row_h])
        for k, data in enumerate(grid[r][c]):
            arr = np.array(data)
            ax.plot(arr[:, 0], arr[:, 1], label=series_names[k],
                    solid_joinstyle='round', dash_joinstyle='round', **styles[k])
        ax.set_xlim(0, 180)
        ax.set_ylim(*ylims[c])
        ax.set_xticks(xticks)
        ax.set_yticks(yticks[c])
        ax.set_yticklabels(ytick_labels[c])
        ax.tick_params(direction='in', top=True, right=True, length=4.5, width=0.9,
                       labelsize=11.5)
        ax.tick_params(axis='y', pad=ytick_pad[c])
        ax.tick_params(axis='x', pad=7)
        for sp in ax.spines.values():
            sp.set_linewidth(1.0)
        ax.set_ylabel(ylabels[c], fontsize=12.5)
        ax.yaxis.set_label_coords(-0.195, 0.5)
        if r < 2:
            ax.tick_params(labelbottom=False)
        else:
            ax.set_xticklabels([str(v) for v in xticks])
            ax.set_xlabel('Time [fs]', fontsize=12.5)
            ax.xaxis.set_label_coords(0.5, -0.19)
        if c == 0:
            ax.text(144, 0.49, n_labels[r], fontsize=12, ha='center', va='center')
        if r == 0:
            top = 0.936 if c < 2 else 0.962
            ax.legend(loc='upper right', bbox_to_anchor=(0.93, top), ncol=2,
                      markerfirst=False, frameon=False, fontsize=12.5,
                      handlelength=1.85, handletextpad=0.4, columnspacing=0.8,
                      labelspacing=0.02, borderpad=0, borderaxespad=0)
        if r == 0 and c == 0:
            ax.text(109, 0.093, 'τ$_\\mathrm{p}$', fontsize=12, ha='center', va='center')

for c in range(3):
    fig.text([0.0192, 0.349, 0.685][c], 0.961, panel_letters[c], fontsize=15,
             fontweight='bold', ha='center', va='center')

plt.savefig('out.png', dpi=100)
